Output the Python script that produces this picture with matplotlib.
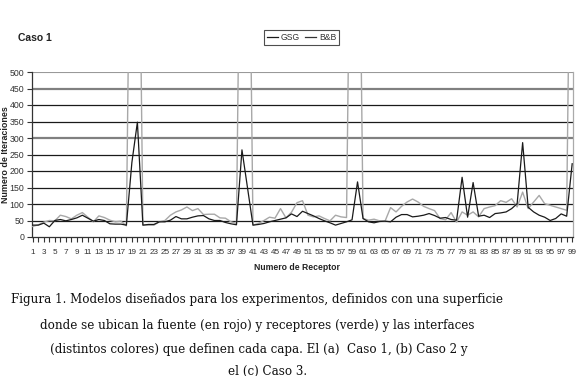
import matplotlib
matplotlib.use("Agg")
import matplotlib.pyplot as plt
from matplotlib.lines import Line2D
import numpy as np

receptores = list(range(1, 100))

# GSG (black line)
gsg = [36, 36, 42, 31, 50, 53, 49, 53, 58, 66,
       57, 48, 53, 50, 40, 39, 39, 36, 226, 348,
       36, 38, 38, 46, 46, 51, 62, 55, 55, 60,
       64, 65, 55, 50, 50, 44, 40, 37, 264, 150,
       36, 38, 41, 46, 50, 54, 58, 70, 62, 78,
       71, 64, 56, 49, 43, 36, 41, 46, 52, 167,
       56, 46, 43, 47, 48, 46, 60, 68, 68, 61,
       63, 66, 71, 65, 57, 59, 53, 51, 181, 60,
       165, 63, 66, 59, 71, 73, 76, 86, 101, 286,
       90, 76, 66, 60, 50, 56, 70, 63, 222]

# B&B (grey line) -- values above 500 run off the top of the chart
bb = [32, 37, 45, 50, 49, 66, 62, 55, 66, 74,
      60, 46, 64, 59, 51, 46, 48, 34, 1500, 1500,
      36, 36, 36, 46, 50, 66, 76, 82, 91, 80,
      86, 68, 69, 69, 58, 57, 46, 41, 1500, 1500,
      36, 41, 50, 60, 57, 86, 58, 75, 104, 110,
      66, 61, 64, 56, 49, 66, 61, 59, 1500, 1500,
      56, 51, 54, 49, 48, 89, 76, 93, 106, 115,
      106, 93, 86, 80, 56, 52, 74, 45, 76, 66,
      76, 61, 86, 91, 95, 110, 105, 116, 91, 136,
      86, 106, 126, 101, 96, 91, 86, 81, 1500]

yticks = list(range(0, 501, 50))
xticklabels = [str(r) for r in receptores]

sans = ['Liberation Sans', 'DejaVu Sans']

fig = plt.figure(figsize=(5.79, 3.76), dpi=100)
fig.patch.set_facecolor('white')
ax = fig.add_axes([32/579, 1-237/376, (573-32)/579, (237-72)/376])

# gridlines
for v in yticks[1:]:
    if v in (300, 450):
        ax.axhline(v, color='#808080', lw=1.6, zorder=1)
    elif v == 500:
        ax.axhline(v, color='#999999', lw=0.8, zorder=1)
    else:
        ax.axhline(v, color='#1a1a1a', lw=0.9, zorder=1)

ax.plot(receptores, bb, color='#a8a8a8', lw=1.0, zorder=3, label='B&B')
ax.plot(receptores, gsg, color='#1a1a1a', lw=0.9, zorder=4, label='GSG')

ax.set_xlim(0.85, 99.15)
ax.set_ylim(0, 500)
ax.set_yticks(yticks)
ax.set_yticklabels([str(v) for v in yticks], family=sans, fontsize=6.3, color='#333333')
ax.set_xticks(receptores)
ax.set_xticklabels([l if (i % 2 == 0) else '' for i, l in enumerate(xticklabels)],
                   family=sans, fontsize=5.9, color='#333333')
ax.tick_params(axis='both', length=3.5, width=0.8, color='#333333', pad=2.0, direction='out')
ax.tick_params(axis='x', pad=5)

ax.spines['top'].set_visible(False)
ax.spines['right'].set_color('#aaaaaa')
ax.spines['right'].set_linewidth(0.9)
ax.spines['left'].set_color('#333333')
ax.spines['bottom'].set_color('#333333')
ax.spines['left'].set_linewidth(0.9)
ax.spines['bottom'].set_linewidth(0.9)

fig.text(18/579, 1-38/376, 'Caso 1', family=sans, fontsize=7.5, weight='bold',
         ha='left', va='center', color='#222222')
fig.text(6/579, 1-155/376, 'Numero de Iteraciones', family=sans, fontsize=6.4,
         weight='bold', rotation=90, ha='center', va='center', color='#222222')
fig.text(297/579, 1-268/376, 'Numero de Receptor', family=sans, fontsize=6.2,
         weight='bold', ha='center', va='center', color='#222222')

handles = [Line2D([], [], color='#1a1a1a', lw=0.9), Line2D([], [], color='#333333', lw=0.9)]
leg = fig.legend(handles, ['GSG', 'B&B'], loc='center', bbox_to_anchor=(301.5/579, 1-37.5/376),
                 ncol=2, frameon=True, fancybox=False, handlelength=1.3, handletextpad=0.3,
                 columnspacing=0.6, borderpad=0.35, prop={'family': sans, 'size': 6.2})
leg.get_frame().set_edgecolor('#222222')
leg.get_frame().set_linewidth(0.8)
for t in leg.get_texts():
    t.set_color('#333333')

caption = [
    ('Figura 1. Modelos diseñados para los experimentos, definidos con una superficie', 257, 300),
    ('donde se ubican la fuente (en rojo) y receptores (verde) y las interfaces', 257, 325),
    ('(distintos colores) que definen cada capa. El (a)  Caso 1, (b) Caso 2 y', 259, 349),
    ('el (c) Caso 3.', 268, 371),
]
for txt, x, y in caption:
    fig.text(x/579, 1-y/376, txt, family=['DejaVu Serif'], fontsize=8.6, ha='center',
             va='center', color='#111111')

fig.savefig('out.png', dpi=100, facecolor='white')
